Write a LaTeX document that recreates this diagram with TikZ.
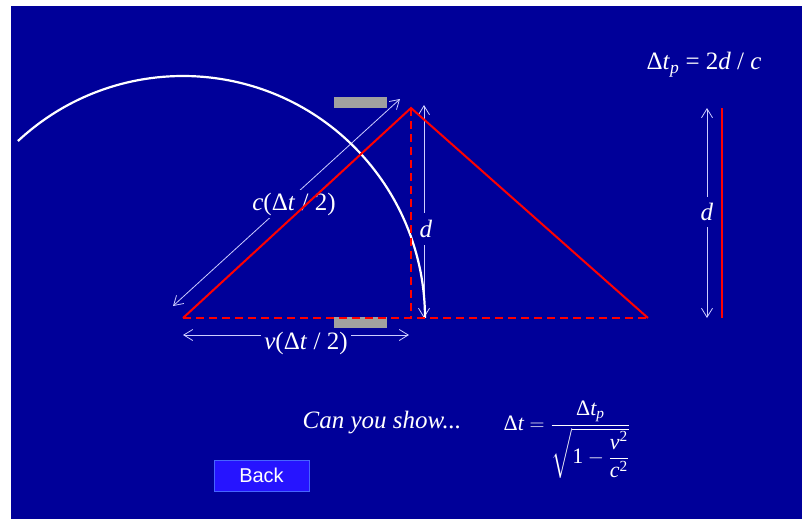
\documentclass[tikz,border=0pt]{standalone}
\usepackage{amsmath}
\usepackage{fontspec}
\setmainfont{Liberation Serif}
\newfontfamily\btnfont{Liberation Sans}
\usetikzlibrary{arrows.meta}
\definecolor{slide}{RGB}{0,0,153}
\definecolor{btnfill}{RGB}{38,20,255}
\definecolor{btnedge}{RGB}{70,100,255}
\definecolor{dimcol}{RGB}{205,205,255}
\definecolor{platecol}{RGB}{160,160,160}
\newcommand\mi[1]{\textit{#1}}
\begin{document}
\begin{tikzpicture}[x=1pt,y=-1pt,
  every node/.style={text=white,font=\fontsize{25}{29}\selectfont},
  dim/.style={draw=dimcol,line width=0.8pt,{Straight Barb[length=9pt,width=11pt]}-{Straight Barb[length=9pt,width=11pt]}},
  dimlabel/.style={fill=slide,inner sep=3pt},
  ray/.style={draw=red,line width=2pt},
  rayback/.style={ray,dash pattern=on 8pt off 5pt},
  plate/.style={fill=platecol,draw=none},
  btn/.style={fill=btnfill,draw=btnedge,line width=1pt,minimum width=95pt,minimum height=31pt,
    font=\btnfont\fontsize{20}{24}\selectfont}]
\useasboundingbox (0,0) rectangle (802,519);
\fill[white] (0,0) rectangle (802,519);
\fill[slide] (11,6) rectangle (802,519);
% triangle corners
\coordinate (A) at (183,318);
\coordinate (P) at (411,108);
\coordinate (B) at (648,318);
\coordinate (F) at (411,318);
% mirrors
\fill[plate] (334,97) rectangle (387,108);
\fill[plate] (334,317) rectangle (387,328);
% dimension arrows
\coordinate (c1) at (173,306); \coordinate (c2) at (400,99);
\draw[dim] (c1) -- (c2);
\node[dimlabel] (clab) at (294,204) {\mi{c}(Δ\mi{t} / 2)};
\coordinate (v1) at (183,335); \coordinate (v2) at (409,335);
\draw[dim] (v1) -- (v2);
\node[dimlabel] (vlab) at (306,343) {\mi{v}(Δ\mi{t} / 2)};
\coordinate (d1) at (424,105); \coordinate (d2) at (424,318);
\draw[dim] (d1) -- (d2);
\node[dimlabel,inner xsep=2pt,inner ysep=7pt] (dlab) at (426,229) {\mi{d}};
\coordinate (e1) at (707,108); \coordinate (e2) at (707,318);
\draw[dim] (e1) -- (e2);
\node[dimlabel,inner sep=6pt] (elab) at (707,212) {\mi{d}};
% light sweep arc round A
\draw[white,line width=2.2pt] (A) ++(-133:242) arc[start angle=-133,end angle=0,radius=242];
% light path
\draw[rayback] (A) -- (B);
\draw[rayback] (P) -- (F);
\draw[ray,line join=miter] (A) -- (P) -- (B);
\coordinate (r1) at (722,108); \coordinate (r2) at (722,318);
\draw[ray] (r1) -- (r2);
% texts
\node (tp) at (704,65) {Δ\mi{t}\textsubscript{\mi{p}} = 2\mi{d} / \mi{c}};
\node (ask) at (382,423) {\itshape Can you show...};
\node[font=\fontsize{22}{26}\selectfont] (form) at (567,440)
  {$\text{Δ}\mi{t}=\dfrac{\text{Δ}\mi{t}_{\mi{p}}}{\sqrt{\text{1}-\dfrac{\mi{v}^{\text{2}}}{\mi{c}^{\text{2}}}}}$};
\node[btn] (back) at (261.5,475.5) {Back};
\end{tikzpicture}
\end{document}
